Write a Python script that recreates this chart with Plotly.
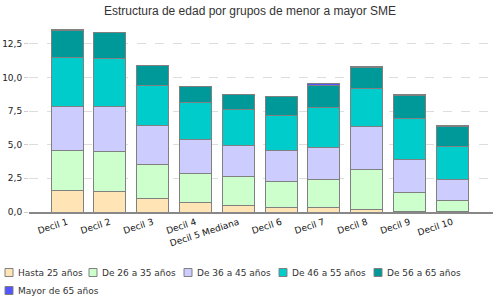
import plotly.graph_objects as go

categories = ["Decil 1", "Decil 2", "Decil 3", "Decil 4", "Decil 5 Mediana",
              "Decil 6", "Decil 7", "Decil 8", "Decil 9", "Decil 10"]

hasta_25 = [1.61, 1.56, 1.01, 0.74, 0.52, 0.37, 0.37, 0.22, 0.07, 0.02]
de_26_35 = [2.96, 2.96, 2.55, 2.15, 2.10, 1.93, 2.08, 2.97, 1.41, 0.80]
de_36_45 = [3.26, 3.31, 2.86, 2.52, 2.35, 2.29, 2.37, 3.18, 2.45, 1.63]
de_46_55 = [3.63, 3.56, 2.99, 2.74, 2.61, 2.60, 2.96, 2.80, 3.04, 2.44]
de_56_65 = [2.00, 1.92, 1.46, 1.16, 1.14, 1.38, 1.63, 1.58, 1.70, 1.48]
mayor_65 = [0.12, 0.04, 0.04, 0.04, 0.04, 0.04, 0.12, 0.04, 0.04, 0.04]

series_names = ["Hasta 25 años", "De 26 a 35 años", "De 36 a 45 años",
                "De 46 a 55 años", "De 56 a 65 años", "Mayor de 65 años"]
series_values = [hasta_25, de_26_35, de_36_45, de_46_55, de_56_65, mayor_65]
series_colors = ["#FFE4B5", "#CCFFCC", "#CCCCFF", "#00CCCC", "#009999", "#5555FF"]

W, H = 500, 300
ML, MR, MT, MB = 29, 7, 25, 88
PW, PH = W - ML - MR, H - MT - MB

fig = go.Figure()
for name, vals, col in zip(series_names, series_values, series_colors):
    fig.add_trace(go.Bar(
        x=categories, y=vals, name=name,
        marker=dict(color=col, line=dict(color="#808080", width=1)),
        width=0.75, showlegend=False,
    ))

# Legend drawn as boxes + text (pixel positions of each entry)
legend_pos = [(5, 272.5), (89, 272.5), (184, 272.5), (279, 272.5), (374, 272.5), (5, 290.5)]
shapes, annotations = [], []
for name, col, (px, py) in zip(series_names, series_colors, legend_pos):
    shapes.append(dict(
        type="rect", xref="paper", yref="paper",
        x0=(px - ML) / PW, x1=(px + 8 - ML) / PW,
        y0=(MT + PH - (py + 4)) / PH, y1=(MT + PH - (py - 4)) / PH,
        fillcolor=col, line=dict(color="#808080", width=1),
    ))
    annotations.append(dict(
        text=name, xref="paper", yref="paper",
        x=(px + 11 - ML) / PW, y=(MT + PH - py) / PH,
        xanchor="left", yanchor="middle", showarrow=False,
        font=dict(family="DejaVu Sans, Verdana", size=9, color="#333333"),
    ))

fig.update_layout(
    barmode="stack",
    width=W, height=H,
    margin=dict(l=ML, r=MR, t=MT, b=MB),
    paper_bgcolor="white", plot_bgcolor="white",
    separators=",.",
    title=dict(text="Estructura de edad por grupos de menor a mayor SME",
               x=0.5, xanchor="center", y=0.965, yanchor="middle",
               font=dict(family="Liberation Sans, Arial", size=12, color="#333333")),
    font=dict(family="DejaVu Sans, Verdana", size=9, color="#222222"),
    showlegend=False,
    shapes=shapes,
    annotations=annotations,
)
fig.update_xaxes(
    range=[-0.89, 9.95], tickangle=-18, showgrid=False, automargin=False,
    showline=True, linecolor="#888888", linewidth=1.5,
    ticks="", tickfont=dict(size=9, family="DejaVu Sans, Verdana", color="#111111"),
)
fig.update_yaxes(
    range=[0, 13.89], tickvals=[0, 2.5, 5, 7.5, 10, 12.5], tickformat=".1f",
    showgrid=True, gridcolor="#dddddd", griddash="dash", gridwidth=1,
    zeroline=False, showline=False, ticks="outside", ticklen=4, tickcolor="#cccccc",
    automargin=False,
    tickfont=dict(size=9, family="DejaVu Sans, Verdana", color="#222222"),
)

fig.write_html("out.html", config={"displayModeBar": False},
               post_script="document.body.style.margin='0';")
